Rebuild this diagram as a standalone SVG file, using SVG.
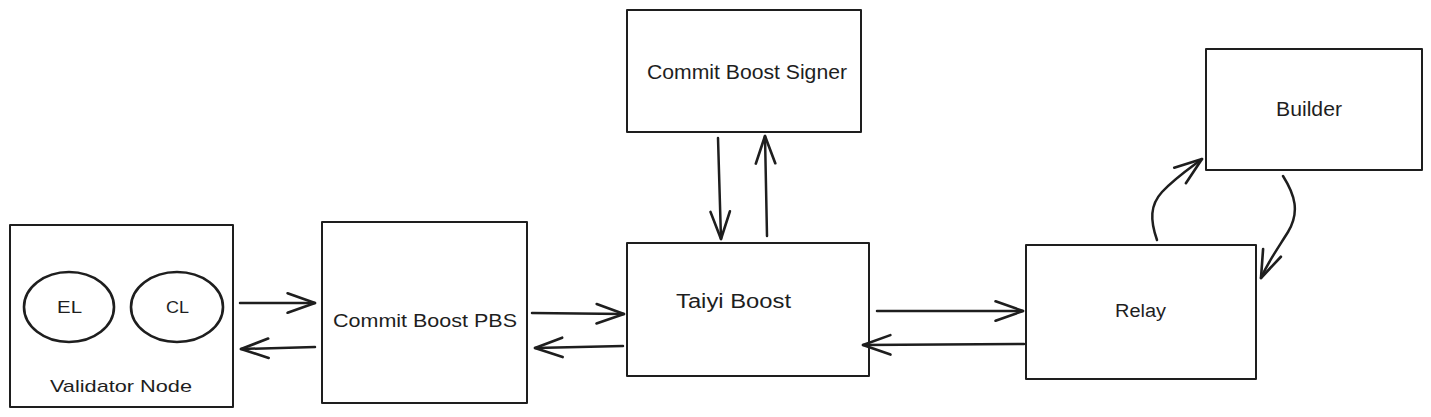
<svg xmlns="http://www.w3.org/2000/svg" width="1431" height="417" viewBox="0 0 1431 417">
<defs>
<style>
.box{fill:#ffffff;stroke:#1e1e1e;stroke-width:2;stroke-linejoin:round}
.ell{fill:none;stroke:#1e1e1e;stroke-width:2.6}
.lbl{font-family:"Liberation Sans",Arial,sans-serif;fill:#1e1e1e;text-anchor:middle}
.conn{fill:none;stroke:#1e1e1e;stroke-width:2.5;stroke-linecap:round;marker-end:url(#head)}
</style>
<marker id="head" markerUnits="userSpaceOnUse" markerWidth="40" markerHeight="40" viewBox="-30 -15 35 30" refX="0" refY="0" orient="auto">
<path d="M -24 -8.5 L 0 0 L -24 8.5" fill="none" stroke="#1e1e1e" stroke-width="2.3" stroke-linecap="round" stroke-linejoin="round"/>
</marker>
</defs>
<rect width="1431" height="417" fill="#ffffff"/>

<g id="validator-node">
<rect class="box" x="10" y="225" width="223" height="182"/>
<text class="lbl" x="121" y="392" font-size="17" textLength="142" lengthAdjust="spacingAndGlyphs">Validator Node</text>
</g>
<g id="el">
<ellipse class="ell" cx="69" cy="307" rx="45" ry="35"/>
<text class="lbl" x="69.5" y="313" font-size="17" textLength="25" lengthAdjust="spacingAndGlyphs">EL</text>
</g>
<g id="cl">
<ellipse class="ell" cx="177" cy="307" rx="46" ry="35"/>
<text class="lbl" x="177.5" y="313" font-size="17" textLength="23" lengthAdjust="spacingAndGlyphs">CL</text>
</g>
<g id="commit-boost-pbs">
<rect class="box" x="322" y="222" width="205" height="181"/>
<text class="lbl" x="425" y="327" font-size="19" textLength="184" lengthAdjust="spacingAndGlyphs">Commit Boost PBS</text>
</g>
<g id="commit-boost-signer">
<rect class="box" x="627" y="10" width="234" height="122"/>
<text class="lbl" x="747" y="79" font-size="20" textLength="200" lengthAdjust="spacingAndGlyphs">Commit Boost Signer</text>
</g>
<g id="taiyi-boost">
<rect class="box" x="627" y="243" width="242" height="133"/>
<text class="lbl" x="733.5" y="308" font-size="20" textLength="115" lengthAdjust="spacingAndGlyphs">Taiyi Boost</text>
</g>
<g id="relay">
<rect class="box" x="1026" y="245" width="230" height="134"/>
<text class="lbl" x="1140.5" y="317" font-size="18" textLength="51" lengthAdjust="spacingAndGlyphs">Relay</text>
</g>
<g id="builder">
<rect class="box" x="1206" y="49" width="216" height="121"/>
<text class="lbl" x="1309" y="116" font-size="20" textLength="66" lengthAdjust="spacingAndGlyphs">Builder</text>
</g>

<g id="connectors">
<path class="conn" d="M 240 303 L 315 303"/>
<path class="conn" d="M 315 347 L 241 349"/>
<path class="conn" d="M 532 313 L 624 314"/>
<path class="conn" d="M 623 346 L 535 348"/>
<path class="conn" d="M 718 138 L 721 239"/>
<path class="conn" d="M 767 236 L 765 136"/>
<path class="conn" d="M 877 311 L 1023 311"/>
<path class="conn" d="M 1024 344 L 863 345"/>
<path class="conn" d="M 1157 240 C 1150 220 1150 205 1162 192 C 1175 178 1190 168 1202 159"/>
<path class="conn" d="M 1283 176 C 1295 195 1300 212 1288 232 C 1278 248 1268 262 1261 278"/>
</g>
</svg>
